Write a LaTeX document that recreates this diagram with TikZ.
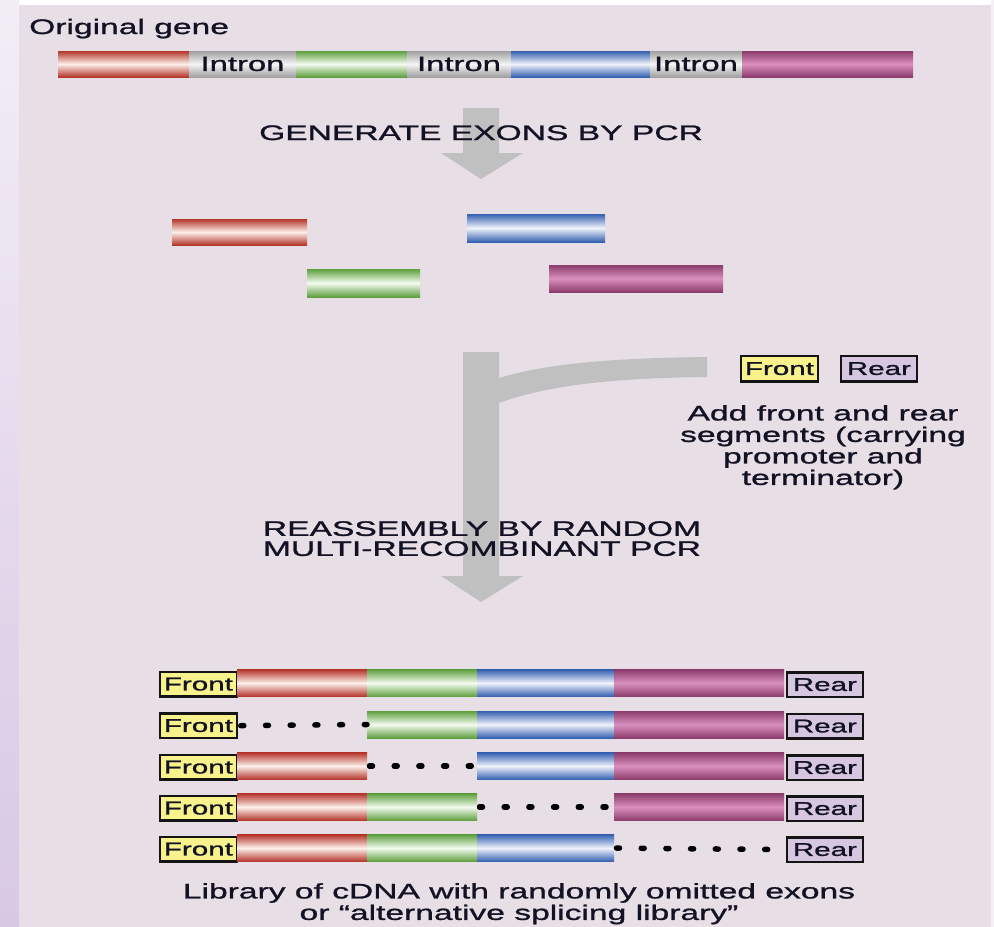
\documentclass[tikz,border=0pt]{standalone}
\usepackage{fontspec}
\setmainfont{Liberation Sans}[FakeStretch=1.6, FakeBold=1.2]

\definecolor{panel}{HTML}{E8DEE6}
\definecolor{sideT}{HTML}{F2EEF6}
\definecolor{sideB}{HTML}{D8C8E4}
\definecolor{sideR}{HTML}{F4F0F5}
\definecolor{ink}{HTML}{121224}
\definecolor{arrowgray}{HTML}{C0C0C0}
\definecolor{redE}{HTML}{B5352B}
\definecolor{redM}{HTML}{FCF0EA}
\definecolor{grnE}{HTML}{5E9F3E}
\definecolor{grnM}{HTML}{F4FBF0}
\definecolor{bluE}{HTML}{3460B0}
\definecolor{bluM}{HTML}{F0F2FC}
\definecolor{magE}{HTML}{8C3C6C}
\definecolor{magM}{HTML}{DA90BE}
\definecolor{intE}{HTML}{A0A0A0}
\definecolor{intM}{HTML}{F4F4F4}
\definecolor{frontfill}{HTML}{F8F28C}
\definecolor{rearfill}{HTML}{D6C6E0}

\newcommand\lblfont{\fontsize{21}{20}\selectfont}
\newcommand\notefont{\fontsize{21}{21.5}\selectfont}
\newcommand\tagfont{\fontsize{18.5}{18.5}\selectfont}

\tikzset{
  bar/.style={rectangle, inner sep=0pt, outer sep=0pt, anchor=north west,
    minimum height=27pt},
  exred/.style={bar, top color=redE, bottom color=redE, middle color=redM},
  exgrn/.style={bar, top color=grnE, bottom color=grnE, middle color=grnM},
  exblu/.style={bar, top color=bluE, bottom color=bluE, middle color=bluM},
  exmag/.style={bar, top color=magE, bottom color=magE, middle color=magM},
  intron/.style={bar, top color=intE, bottom color=intE, middle color=intM,
    text=ink, font=\fontsize{20.5}{20.5}\selectfont},
  tagbox/.style={rectangle, draw=black!92, line width=2.8pt, inner sep=0pt,
    anchor=north west, minimum width=77pt, minimum height=24.5pt,
    text=ink, font=\tagfont},
  fronttag/.style={tagbox, fill=frontfill},
  reartag/.style={tagbox, fill=rearfill, minimum width=76pt},
  lbl/.style={inner sep=0pt, text=ink, font=\lblfont},
  gapdots/.style={draw=black, line width=5.5pt, line cap=round,
    dash pattern=on 3pt off 21.7pt, shorten <=2.5pt},
  bigarrow/.style={fill=arrowgray, draw=none}
}

\begin{document}
\begin{tikzpicture}[x=1pt, y=-1pt]
\useasboundingbox (0,0) rectangle (994,927);

% backdrop: white frame, lavender strip at the left, panel
\fill[white] (0,0) rectangle (994,927);
\shade[top color=sideT, bottom color=sideB] (0,0) rectangle (19,927);
\fill[panel] (19,5) rectangle (991,927);
\fill[sideR] (991,0) rectangle (994,927);

% grey process arrows (drawn first so the captions sit on top)
\fill[bigarrow] (463,108) -- (499,108) -- (499,153) -- (523,153)
  -- (481,179) -- (441,153) -- (463,153) -- cycle;
\fill[bigarrow] (463,352) -- (499,352) -- (499,378)
  .. controls (545,364) and (610,358) .. (707,357) -- (707,377)
  .. controls (610,378) and (545,386) .. (499,403)
  -- (499,576) -- (523,576) -- (481,602) -- (441,576) -- (463,576) -- cycle;

% original gene
\node[lbl, anchor=base west] (title) at (29,34) {Original gene};
\node[exred, minimum width=131pt, minimum height=26pt] (gR) at (58,51) {};
\node[intron, minimum width=107pt, minimum height=26pt] (gI1) at (189,51) {Intron};
\node[exgrn, minimum width=111pt, minimum height=26pt] (gG) at (296,51) {};
\node[intron, minimum width=104pt, minimum height=26pt] (gI2) at (407,51) {Intron};
\node[exblu, minimum width=139pt, minimum height=26pt] (gB) at (511,51) {};
\node[intron, minimum width=92pt, minimum height=26pt] (gI3) at (650,51) {Intron};
\node[exmag, minimum width=171pt, minimum height=26pt] (gM) at (742,51) {};

\node[lbl, anchor=base] (step1) at (481,140) {GENERATE EXONS BY PCR};

% separated exons
\node[exred, minimum width=135pt, minimum height=26pt] (xR) at (172,219) {};
\node[exgrn, minimum width=113pt, minimum height=28pt] (xG) at (307,269) {};
\node[exblu, minimum width=138pt, minimum height=28pt] (xB) at (467,214) {};
\node[exmag, minimum width=174pt, minimum height=27pt] (xM) at (549,265) {};

% front and rear segments
\node[fronttag, minimum height=25.5pt] (ftop) at (739.5,354.5) {Front};
\node[reartag, minimum height=25.5pt] (rtop) at (839.5,354.5) {Rear};
\node[inner sep=0pt, text=ink, font=\notefont, align=center, anchor=north]
  (addnote) at (823,405) {Add front and rear\\segments (carrying\\promoter and\\terminator)};

\node[lbl, align=center, anchor=north] (step2) at (482,521)
  {REASSEMBLY BY RANDOM\\MULTI-RECOMBINANT PCR};

% library rows
\node[fronttag] (f1) at (158.5,670.5) {Front};
\node[exred, minimum width=130pt] (r1) at (237,669.5) {};
\node[exgrn, minimum width=110pt] (g1) at (367,669.5) {};
\node[exblu, minimum width=137pt] (b1) at (477,669.5) {};
\node[exmag, minimum width=170pt] (m1) at (614,669.5) {};
\node[reartag] (e1) at (785.5,671) {Rear};

\node[fronttag] (f2) at (158.5,712) {Front};
\node[exgrn, minimum width=110pt] (g2) at (367,711) {};
\node[exblu, minimum width=137pt] (b2) at (477,711) {};
\node[exmag, minimum width=170pt] (m2) at (614,711) {};
\node[reartag] (e2) at (785.5,712.5) {Rear};
\draw[gapdots] (f2.east) -- (g2.west);

\node[fronttag] (f3) at (158.5,753.5) {Front};
\node[exred, minimum width=130pt] (r3) at (237,752.5) {};
\node[exblu, minimum width=137pt] (b3) at (477,752.5) {};
\node[exmag, minimum width=170pt] (m3) at (614,752.5) {};
\node[reartag] (e3) at (785.5,754) {Rear};
\draw[gapdots] (r3.east) -- (b3.west);

\node[fronttag] (f4) at (158.5,794.5) {Front};
\node[exred, minimum width=130pt] (r4) at (237,793.5) {};
\node[exgrn, minimum width=110pt] (g4) at (367,793.5) {};
\node[exmag, minimum width=170pt] (m4) at (614,793.5) {};
\node[reartag] (e4) at (785.5,795) {Rear};
\draw[gapdots] (g4.east) -- (m4.west);

\node[fronttag] (f5) at (158.5,835.5) {Front};
\node[exred, minimum width=130pt] (r5) at (237,834.5) {};
\node[exgrn, minimum width=110pt] (g5) at (367,834.5) {};
\node[exblu, minimum width=137pt] (b5) at (477,834.5) {};
\node[reartag] (e5) at (785.5,836) {Rear};
\draw[gapdots] (b5.east) -- (e5.west);

\node[inner sep=0pt, text=ink, font=\notefont, align=center, anchor=north]
  (caption) at (519,883)
  {Library of cDNA with randomly omitted exons\\or “alternative splicing library”};
\end{tikzpicture}
\end{document}
